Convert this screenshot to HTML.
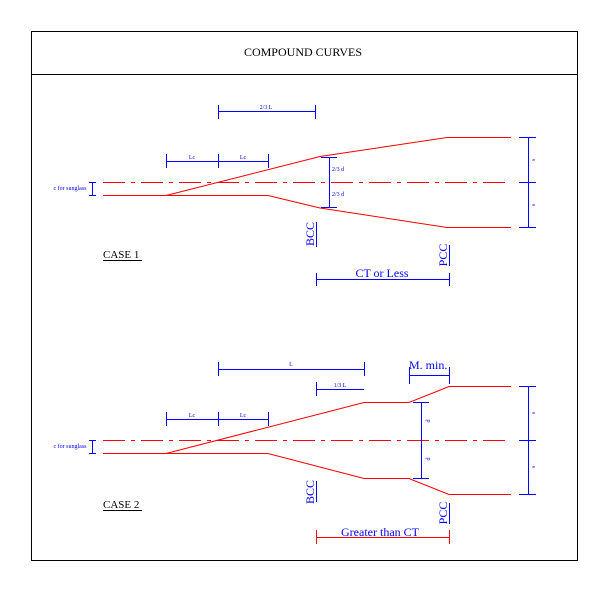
<!DOCTYPE html>
<html><head><style>body{margin:0;background:#fff}svg{display:block}</style></head><body>
<svg width="609" height="592" viewBox="0 0 609 592" xmlns="http://www.w3.org/2000/svg" font-family="Liberation Serif, serif">
<rect x="31.5" y="31.5" width="546" height="529" fill="none" stroke="#000" stroke-width="1"/>
<line x1="31" y1="74.5" x2="578" y2="74.5" stroke="#000"/>
<text x="303" y="56" font-size="12" text-anchor="middle">COMPOUND CURVES</text>

<g stroke="#f00" fill="none" stroke-width="1">
<!-- case1 -->
<line x1="103" y1="182.5" x2="511" y2="182.5" stroke-dasharray="22,6,4,6"/>
<polyline points="103,195.5 268,195.5 320,208 447,227.5 511,227.5"/>
<polyline points="166,195.5 320,156.5 447,137.5 511,137.5"/>
<!-- case2 -->
<line x1="103" y1="440.5" x2="511" y2="440.5" stroke-dasharray="22,6,4,6"/>
<polyline points="103,453.5 268,453.5 364,478.5 409,478.5 449,494.5 511,494.5"/>
<polyline points="166,453.5 364,402.5 409,402.5 449,386.5 511,386.5"/>
<line x1="316" y1="537.5" x2="449" y2="537.5"/>
<line x1="316.5" y1="530" x2="316.5" y2="544"/>
<line x1="449.5" y1="530" x2="449.5" y2="544"/>
</g>

<g stroke="#00f" fill="none" stroke-width="1">
<!-- case1 dims -->
<line x1="218" y1="111.5" x2="315" y2="111.5"/><line x1="218.5" y1="105" x2="218.5" y2="119"/><line x1="315.5" y1="105" x2="315.5" y2="119"/>
<line x1="166" y1="161.5" x2="268" y2="161.5"/><line x1="166.5" y1="154" x2="166.5" y2="168"/><line x1="218.5" y1="154" x2="218.5" y2="168"/><line x1="268.5" y1="154" x2="268.5" y2="168"/>
<line x1="329.5" y1="157" x2="329.5" y2="207"/><line x1="321" y1="157.5" x2="337" y2="157.5"/><line x1="321" y1="207.5" x2="337" y2="207.5"/>
<line x1="528.5" y1="137" x2="528.5" y2="227"/><line x1="519" y1="137.5" x2="536" y2="137.5"/><line x1="519" y1="182.5" x2="536" y2="182.5"/><line x1="519" y1="227.5" x2="536" y2="227.5"/>
<line x1="92.5" y1="182" x2="92.5" y2="195"/><line x1="89" y1="182.5" x2="96" y2="182.5"/><line x1="89" y1="195.5" x2="96" y2="195.5"/>
<line x1="316.5" y1="222" x2="316.5" y2="247"/><line x1="449.5" y1="245" x2="449.5" y2="266"/>
<line x1="316" y1="279.5" x2="449" y2="279.5"/><line x1="316.5" y1="273" x2="316.5" y2="286"/><line x1="449.5" y1="273" x2="449.5" y2="286"/>
<!-- case2 dims -->
<line x1="218" y1="369.5" x2="364" y2="369.5"/><line x1="218.5" y1="362" x2="218.5" y2="376"/><line x1="364.5" y1="362" x2="364.5" y2="376"/>
<line x1="316" y1="389.5" x2="364" y2="389.5"/><line x1="316.5" y1="382" x2="316.5" y2="396"/>
<line x1="409" y1="375.5" x2="449" y2="375.5"/><line x1="409.5" y1="367" x2="409.5" y2="384"/><line x1="449.5" y1="367" x2="449.5" y2="384"/>
<line x1="166" y1="419.5" x2="268" y2="419.5"/><line x1="166.5" y1="412" x2="166.5" y2="426"/><line x1="218.5" y1="412" x2="218.5" y2="426"/><line x1="268.5" y1="412" x2="268.5" y2="426"/>
<line x1="421.5" y1="402" x2="421.5" y2="478"/><line x1="413" y1="402.5" x2="429" y2="402.5"/><line x1="413" y1="478.5" x2="429" y2="478.5"/>
<line x1="528.5" y1="386" x2="528.5" y2="494"/><line x1="519" y1="386.5" x2="536" y2="386.5"/><line x1="519" y1="440.5" x2="536" y2="440.5"/><line x1="519" y1="494.5" x2="536" y2="494.5"/>
<line x1="92.5" y1="440" x2="92.5" y2="453"/><line x1="89" y1="440.5" x2="96" y2="440.5"/><line x1="89" y1="453.5" x2="96" y2="453.5"/>
<line x1="316.5" y1="481" x2="316.5" y2="502"/><line x1="449.5" y1="503" x2="449.5" y2="524"/>
</g>

<g fill="#00f" font-size="6">
<text x="266" y="109" text-anchor="middle">2/3 L</text>
<text x="192" y="159" text-anchor="middle">Lc</text><text x="243" y="159" text-anchor="middle">Lc</text>
<text x="332" y="171">2/3 d</text><text x="332" y="196">2/3 d</text>
<text x="70" y="190" text-anchor="middle">c for sunglass</text>
<text x="533" y="162" transform="rotate(-90 533 160)" text-anchor="middle">s</text>
<text x="533" y="207" transform="rotate(-90 533 205)" text-anchor="middle">s</text>
<text x="291" y="366" text-anchor="middle">L</text>
<text x="340" y="387" text-anchor="middle">1/3 L</text>
<text x="192" y="417" text-anchor="middle">Lc</text><text x="243" y="417" text-anchor="middle">Lc</text>
<text x="428" y="423" transform="rotate(-90 428 421)" text-anchor="middle">d</text>
<text x="428" y="461" transform="rotate(-90 428 459)" text-anchor="middle">d</text>
<text x="70" y="448" text-anchor="middle">c for sunglass</text>
<text x="533" y="415" transform="rotate(-90 533 413)" text-anchor="middle">s</text>
<text x="533" y="469" transform="rotate(-90 533 467)" text-anchor="middle">s</text>
</g>
<g fill="#00f" font-size="12">
<text x="314" y="234" transform="rotate(-90 314 234)" text-anchor="middle">BCC</text>
<text x="447" y="255" transform="rotate(-90 447 255)" text-anchor="middle">PCC</text>
<text x="382" y="277" text-anchor="middle">CT or Less</text>
<text x="314" y="492" transform="rotate(-90 314 492)" text-anchor="middle">BCC</text>
<text x="447" y="513" transform="rotate(-90 447 513)" text-anchor="middle">PCC</text>
<text x="380" y="536" text-anchor="middle">Greater than CT</text>
<text x="409" y="369">M. min.</text>
</g>
<g fill="#000" font-size="11">
<text x="103" y="258">CASE 1</text><line x1="103" y1="260.5" x2="142" y2="260.5" stroke="#000"/>
<text x="103" y="508">CASE 2</text><line x1="103" y1="510.5" x2="142" y2="510.5" stroke="#000"/>
</g>
</svg>
</body></html>
